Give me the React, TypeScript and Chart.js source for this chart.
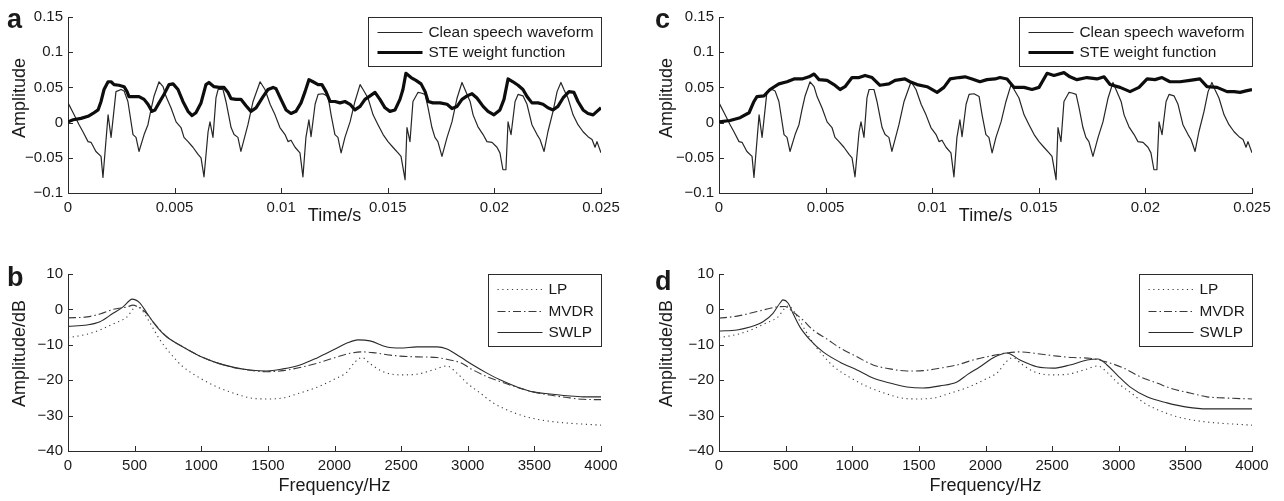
import React, { useEffect, useRef } from "react";
import { Chart, registerables } from "chart.js";

Chart.register(...registerables);

const FONT = "'Liberation Sans', Arial, Helvetica, sans-serif";
const TEXT = "#1a1a1a";
const AXIS = "#2b2b2b";

// ---------- tick values & labels ----------
const timeTicks = [0, 0.005, 0.01, 0.015, 0.02, 0.025];
const timeTickLabels = ["0", "0.005", "0.01", "0.015", "0.02", "0.025"];
const ampTicks = [-0.1, -0.05, 0, 0.05, 0.1, 0.15];
const ampTickLabels = ["\u22120.1", "\u22120.05", "0", "0.05", "0.1", "0.15"];
const freqTicks = [0, 500, 1000, 1500, 2000, 2500, 3000, 3500, 4000];
const freqTickLabels = ["0", "500", "1000", "1500", "2000", "2500", "3000", "3500", "4000"];
const dbTicks = [-40, -30, -20, -10, 0, 10];
const dbTickLabels = ["\u221240", "\u221230", "\u221220", "\u221210", "0", "10"];

// ---------- clean speech waveform (same in a and c) ----------
const speechTimeMs = [0, 0.24, 0.52, 0.70, 0.94, 1.08, 1.31, 1.55, 1.64, 1.88, 2.02, 2.25, 2.49, 2.63, 2.81, 3.05, 3.19, 3.33, 3.57, 3.75, 3.89, 4.03, 4.27, 4.46, 4.60, 4.83, 5.07, 5.30, 5.44, 5.63, 5.86, 6.10, 6.24, 6.38, 6.57, 6.66, 6.80, 6.94, 7.04, 7.27, 7.41, 7.65, 7.79, 7.97, 8.11, 8.44, 8.68, 9.01, 9.24, 9.48, 9.71, 9.94, 10.18, 10.32, 10.46, 10.65, 10.88, 11.02, 11.16, 11.30, 11.40, 11.59, 11.73, 11.96, 12.20, 12.34, 12.52, 12.66, 12.81, 12.99, 13.23, 13.46, 13.70, 13.84, 14.07, 14.31, 14.54, 14.78, 15.01, 15.24, 15.48, 15.62, 15.81, 15.90, 16.04, 16.18, 16.42, 16.56, 16.75, 16.89, 17.07, 17.21, 17.35, 17.54, 17.78, 18.01, 18.25, 18.48, 18.62, 18.86, 19.00, 19.23, 19.47, 19.65, 19.89, 20.12, 20.26, 20.40, 20.54, 20.64, 20.78, 20.97, 21.11, 21.34, 21.53, 21.76, 22.00, 22.14, 22.33, 22.51, 22.75, 22.94, 23.12, 23.26, 23.45, 23.69, 23.92, 24.16, 24.39, 24.58, 24.72, 24.81, 25.00];
const speechAmp = [0.028, 0.014, -0.003, -0.013, -0.027, -0.028, -0.041, -0.048, -0.078, 0.011, -0.021, 0.044, 0.047, 0.045, 0.030, -0.017, -0.021, -0.041, -0.017, -0.003, 0.018, 0.037, 0.058, 0.051, 0.037, 0.021, 0.001, -0.007, -0.021, -0.027, -0.035, -0.045, -0.050, -0.077, -0.013, 0.001, -0.021, 0.035, 0.047, 0.047, 0.030, -0.007, -0.017, -0.021, -0.041, -0.003, 0.030, 0.058, 0.047, 0.026, 0.011, -0.007, -0.017, -0.027, -0.025, -0.035, -0.043, -0.077, -0.021, 0.004, -0.020, 0.026, 0.040, 0.041, 0.037, 0.011, -0.017, -0.021, -0.043, -0.021, 0.001, 0.030, 0.054, 0.047, 0.035, 0.011, -0.003, -0.017, -0.027, -0.035, -0.043, -0.048, -0.081, -0.007, -0.027, 0.030, 0.043, 0.042, 0.040, 0.021, -0.007, -0.021, -0.027, -0.048, -0.021, 0.001, 0.035, 0.057, 0.047, 0.030, 0.011, -0.006, -0.017, -0.027, -0.028, -0.035, -0.043, -0.067, -0.067, 0.001, -0.017, 0.030, 0.040, 0.038, 0.026, -0.003, -0.017, -0.024, -0.041, -0.013, 0.016, 0.044, 0.057, 0.047, 0.035, 0.011, -0.003, -0.013, -0.020, -0.024, -0.035, -0.027, -0.043];

// ---------- STE weight function, panel a ----------
const steATimeMs = [0, 0.24, 0.61, 0.94, 1.17, 1.41, 1.55, 1.69, 1.88, 2.02, 2.16, 2.39, 2.63, 2.77, 2.86, 3.10, 3.33, 3.57, 3.75, 3.94, 4.08, 4.27, 4.50, 4.74, 4.93, 5.16, 5.39, 5.63, 5.82, 6.00, 6.24, 6.47, 6.61, 6.85, 7.08, 7.32, 7.50, 7.65, 7.88, 8.11, 8.35, 8.58, 8.82, 9.15, 9.38, 9.62, 9.76, 9.99, 10.23, 10.46, 10.69, 10.93, 11.12, 11.30, 11.49, 11.73, 11.91, 12.10, 12.29, 12.52, 12.76, 12.99, 13.23, 13.46, 13.70, 13.93, 14.17, 14.40, 14.63, 14.87, 15.10, 15.34, 15.57, 15.71, 15.85, 16.09, 16.32, 16.56, 16.75, 16.89, 17.12, 17.45, 17.78, 18.01, 18.25, 18.48, 18.72, 18.95, 19.18, 19.47, 19.70, 19.98, 20.26, 20.45, 20.64, 20.87, 21.11, 21.34, 21.53, 21.76, 22.05, 22.28, 22.51, 22.75, 22.98, 23.22, 23.50, 23.73, 23.92, 24.16, 24.39, 24.63, 24.81, 25.00];
const steA = [0.001, 0.004, 0.006, 0.009, 0.013, 0.018, 0.030, 0.047, 0.058, 0.058, 0.054, 0.053, 0.051, 0.044, 0.037, 0.037, 0.037, 0.033, 0.026, 0.016, 0.018, 0.028, 0.040, 0.054, 0.055, 0.047, 0.030, 0.016, 0.010, 0.014, 0.028, 0.054, 0.057, 0.051, 0.050, 0.050, 0.043, 0.034, 0.033, 0.033, 0.024, 0.016, 0.021, 0.037, 0.047, 0.050, 0.048, 0.033, 0.018, 0.013, 0.016, 0.028, 0.044, 0.061, 0.058, 0.054, 0.054, 0.044, 0.030, 0.030, 0.028, 0.030, 0.026, 0.018, 0.023, 0.033, 0.038, 0.043, 0.033, 0.021, 0.016, 0.018, 0.033, 0.047, 0.070, 0.064, 0.060, 0.055, 0.044, 0.030, 0.028, 0.028, 0.026, 0.020, 0.023, 0.033, 0.038, 0.041, 0.035, 0.023, 0.016, 0.011, 0.018, 0.033, 0.062, 0.058, 0.053, 0.047, 0.037, 0.028, 0.028, 0.026, 0.021, 0.018, 0.023, 0.035, 0.044, 0.043, 0.030, 0.018, 0.013, 0.011, 0.016, 0.021];

// ---------- STE weight function, panel c ----------
const steCTimeMs = [0, 0.52, 0.99, 1.41, 1.64, 1.78, 2.11, 2.39, 2.81, 3.19, 3.52, 3.89, 4.22, 4.46, 4.69, 5.07, 5.39, 5.68, 5.91, 6.24, 6.57, 6.85, 7.18, 7.55, 7.97, 8.26, 8.72, 8.96, 9.29, 9.76, 10.23, 10.55, 10.84, 11.26, 11.54, 11.87, 12.24, 12.57, 12.95, 13.18, 13.51, 13.84, 14.31, 14.68, 15.01, 15.39, 15.71, 16.18, 16.46, 16.79, 17.26, 17.73, 18.06, 18.34, 18.81, 19.28, 19.70, 20.08, 20.45, 20.78, 21.15, 21.62, 22.09, 22.56, 22.89, 23.36, 23.83, 24.16, 24.44, 24.72, 25.00];
const steC = [0.001, 0.003, 0.007, 0.014, 0.030, 0.037, 0.038, 0.047, 0.055, 0.058, 0.062, 0.062, 0.065, 0.069, 0.061, 0.060, 0.054, 0.047, 0.051, 0.064, 0.064, 0.067, 0.064, 0.053, 0.055, 0.060, 0.062, 0.058, 0.054, 0.051, 0.043, 0.050, 0.062, 0.064, 0.065, 0.062, 0.058, 0.061, 0.062, 0.064, 0.062, 0.050, 0.050, 0.047, 0.050, 0.070, 0.067, 0.071, 0.065, 0.061, 0.064, 0.062, 0.065, 0.054, 0.050, 0.044, 0.050, 0.062, 0.061, 0.064, 0.058, 0.058, 0.060, 0.062, 0.051, 0.050, 0.044, 0.044, 0.043, 0.045, 0.047];

// ---------- spectral envelopes ----------
const lpFreqHz = [0, 143, 240, 338, 443, 500, 525, 563, 615, 690, 765, 863, 991, 1118, 1238, 1366, 1493, 1614, 1741, 1869, 1989, 2094, 2150, 2206, 2266, 2364, 2492, 2619, 2739, 2844, 2919, 2994, 3092, 3190, 3295, 3445, 3595, 3745, 3865, 4000];
const lpDb = [-8.0, -7.0, -5.8, -4.1, -2.1, 0.6, 1.0, -0.6, -3.8, -8.6, -12.3, -16.2, -19.4, -21.9, -23.6, -25.0, -25.3, -25.0, -23.6, -22.0, -19.9, -17.7, -15.0, -13.6, -15.3, -17.6, -18.5, -18.3, -17.1, -16.0, -18.0, -20.8, -23.6, -26.4, -28.4, -30.4, -31.5, -32.1, -32.4, -32.7];

const mvdrBFreqHz = [0, 143, 240, 338, 443, 488, 525, 578, 638, 690, 743, 863, 991, 1118, 1238, 1366, 1493, 1614, 1741, 1869, 1989, 2116, 2206, 2289, 2394, 2492, 2619, 2769, 2867, 2942, 3039, 3144, 3242, 3370, 3490, 3617, 3745, 3865, 4000];
const mvdrBDb = [-2.4, -2.1, -1.3, 0, 0.7, 1.2, 0.7, -0.7, -3.5, -5.8, -7.8, -10.6, -13.2, -15.1, -16.4, -17.2, -17.6, -17.3, -16.4, -15.2, -13.8, -12.4, -12.0, -12.2, -12.8, -13.2, -13.4, -13.6, -14.3, -15.0, -17.1, -19.0, -20.4, -22.0, -23.3, -24.2, -24.9, -25.4, -25.5];

const swlpBFreqHz = [0, 143, 240, 338, 413, 465, 480, 540, 593, 668, 743, 863, 991, 1118, 1238, 1366, 1493, 1614, 1741, 1869, 1989, 2094, 2176, 2266, 2394, 2492, 2619, 2769, 2844, 2942, 3039, 3144, 3242, 3370, 3490, 3617, 3745, 3865, 4000];
const swlpBDb = [-4.8, -4.4, -3.5, -1.1, 0.7, 2.6, 2.9, 1.8, -1.1, -5.0, -7.8, -10.6, -13.2, -15.1, -16.3, -17.1, -17.4, -16.8, -15.7, -13.7, -11.5, -9.5, -8.6, -8.9, -10.6, -10.9, -10.6, -10.6, -11.2, -13.4, -15.7, -18.0, -19.9, -21.9, -23.3, -23.9, -24.4, -24.7, -24.7];

const mvdrDFreqHz = [0, 135, 233, 330, 435, 495, 555, 630, 705, 811, 908, 1036, 1156, 1283, 1411, 1531, 1659, 1786, 1906, 2034, 2161, 2259, 2409, 2537, 2657, 2784, 2912, 3032, 3159, 3287, 3407, 3535, 3662, 3782, 4000];
const mvdrDDb = [-2.5, -1.9, -1.1, -0.2, 0.7, 0.8, -0.7, -3.0, -5.8, -8.4, -10.9, -13.4, -15.7, -16.8, -17.4, -17.3, -16.6, -15.7, -14.3, -13.2, -12.3, -12.0, -12.6, -13.2, -13.6, -13.8, -14.9, -16.5, -19.0, -20.8, -22.5, -23.6, -24.7, -25.0, -25.3];

const swlpDFreqHz = [0, 135, 233, 330, 405, 458, 480, 518, 555, 608, 683, 781, 908, 1036, 1156, 1283, 1411, 1531, 1659, 1786, 1861, 1959, 2056, 2160, 2259, 2386, 2507, 2634, 2762, 2844, 2912, 2987, 3084, 3212, 3362, 3512, 3662, 3835, 4000];
const swlpDDb = [-6.1, -5.8, -5.0, -3.5, -1.1, 1.8, 2.7, 1.8, -1.1, -5.0, -8.6, -12.0, -14.9, -17.1, -19.4, -20.8, -21.9, -22.2, -21.6, -20.5, -18.5, -16.2, -13.7, -12.3, -14.3, -16.2, -16.6, -15.7, -14.3, -14.0, -15.7, -18.5, -21.9, -24.7, -26.4, -27.6, -28.1, -28.1, -28.1];

// ---------- helpers ----------
const zip = (xs: number[], ys: number[], k = 1) => {
  const n = Math.min(xs.length, ys.length);
  const out: { x: number; y: number }[] = [];
  for (let i = 0; i < n; i++) out.push({ x: xs[i] * k, y: ys[i] });
  return out;
};

type Series = { label: string; data: { x: number; y: number }[]; width: number; color: string; dash: number[]; smooth: boolean; order: number };

const speechSeries = (): Series => ({ label: "Clean speech waveform", data: zip(speechTimeMs, speechAmp, 0.001), width: 1.2, color: "#262626", dash: [], smooth: false, order: 1 });
const steSeries = (t: number[], v: number[]): Series => ({ label: "STE weight function", data: zip(t, v, 0.001), width: 3.2, color: "#0d0d0d", dash: [], smooth: false, order: 0 });
const lpSeries = (): Series => ({ label: "LP", data: zip(lpFreqHz, lpDb), width: 1.1, color: "#3a3a3a", dash: [1.2, 3.6], smooth: true, order: 0 });
const mvdrSeries = (f: number[], d: number[]): Series => ({ label: "MVDR", data: zip(f, d), width: 1.1, color: "#3a3a3a", dash: [8, 3, 1.5, 3], smooth: true, order: 0 });
const swlpSeries = (f: number[], d: number[]): Series => ({ label: "SWLP", data: zip(f, d), width: 1.1, color: "#2a2a2a", dash: [], smooth: true, order: 0 });

type PanelCfg = {
  left: number; top: number; width: number; height: number;
  areaTop: number; areaBottom: number; areaRight: number; yAxisWidth: number;
  xMin: number; xMax: number; xTicks: number[]; xLabels: string[]; xTitle: string; xTitlePad: number;
  yMin: number; yMax: number; yTicks: number[]; yLabels: string[]; yTitle: string; yTitleX: number; yTitleShift: number;
  letter: string; letterX: number; letterY: number;
  legendW: number; legendH: number; legendRows: number[];
  series: Series[];
};

const panels: PanelCfg[] = [
  {
    left: 0, top: 0, width: 642, height: 232, areaTop: 17, areaBottom: 193, areaRight: 601, yAxisWidth: 68,
    xMin: 0, xMax: 0.025, xTicks: timeTicks, xLabels: timeTickLabels, xTitle: "Time/s", xTitlePad: 5,
    yMin: -0.1, yMax: 0.15, yTicks: ampTicks, yLabels: ampTickLabels, yTitle: "Amplitude", yTitleX: 20, yTitleShift: 7,
    letter: "a", letterX: 7, letterY: 28,
    legendW: 233, legendH: 49, legendRows: [15, 35],
    series: [speechSeries(), steSeries(steATimeMs, steA)],
  },
  {
    left: 0, top: 240, width: 642, height: 261, areaTop: 34, areaBottom: 211, areaRight: 601, yAxisWidth: 68,
    xMin: 0, xMax: 4000, xTicks: freqTicks, xLabels: freqTickLabels, xTitle: "Frequency/Hz", xTitlePad: 4,
    yMin: -40, yMax: 10, yTicks: dbTicks, yLabels: dbTickLabels, yTitle: "Amplitude/dB", yTitleX: 20, yTitleShift: 9,
    letter: "b", letterX: 7, letterY: 46,
    legendW: 113, legendH: 72, legendRows: [15, 37, 58],
    series: [lpSeries(), mvdrSeries(mvdrBFreqHz, mvdrBDb), swlpSeries(swlpBFreqHz, swlpBDb)],
  },
  {
    left: 651, top: 0, width: 633, height: 232, areaTop: 17, areaBottom: 193, areaRight: 601, yAxisWidth: 68,
    xMin: 0, xMax: 0.025, xTicks: timeTicks, xLabels: timeTickLabels, xTitle: "Time/s", xTitlePad: 5,
    yMin: -0.1, yMax: 0.15, yTicks: ampTicks, yLabels: ampTickLabels, yTitle: "Amplitude", yTitleX: 16, yTitleShift: 7,
    letter: "c", letterX: 4, letterY: 28,
    legendW: 233, legendH: 49, legendRows: [15, 35],
    series: [speechSeries(), steSeries(steCTimeMs, steC)],
  },
  {
    left: 651, top: 240, width: 633, height: 261, areaTop: 34, areaBottom: 211, areaRight: 601, yAxisWidth: 68,
    xMin: 0, xMax: 4000, xTicks: freqTicks, xLabels: freqTickLabels, xTitle: "Frequency/Hz", xTitlePad: 4,
    yMin: -40, yMax: 10, yTicks: dbTicks, yLabels: dbTickLabels, yTitle: "Amplitude/dB", yTitleX: 16, yTitleShift: 9,
    letter: "d", letterX: 4, letterY: 50,
    legendW: 113, legendH: 72, legendRows: [15, 37, 58],
    series: [lpSeries(), mvdrSeries(mvdrDFreqHz, mvdrDDb), swlpSeries(swlpDFreqHz, swlpDDb)],
  },
];

const makeDecor = (p: PanelCfg) => ({
  id: "decor",
  afterDraw(chart: any) {
    const ctx: CanvasRenderingContext2D = chart.ctx;
    const ca = chart.chartArea;
    const xs = chart.scales.x;
    const ys = chart.scales.y;
    ctx.save();
    // inward tick marks
    ctx.strokeStyle = AXIS;
    ctx.lineWidth = 1;
    ctx.setLineDash([]);
    ctx.beginPath();
    for (const t of xs.ticks) {
      const px = Math.round(xs.getPixelForValue(t.value)) + 0.5;
      ctx.moveTo(px, ca.bottom);
      ctx.lineTo(px, ca.bottom - 5);
    }
    for (const t of ys.ticks) {
      const py = Math.round(ys.getPixelForValue(t.value)) + 0.5;
      ctx.moveTo(ca.left, py);
      ctx.lineTo(ca.left + 5, py);
    }
    ctx.stroke();

    // panel letter
    ctx.fillStyle = TEXT;
    ctx.font = `bold 27px ${FONT}`;
    ctx.textAlign = "left";
    ctx.textBaseline = "alphabetic";
    ctx.fillText(p.letter, p.letterX, p.letterY);

    // y-axis title
    ctx.save();
    ctx.font = `18px ${FONT}`;
    ctx.translate(p.yTitleX, (ca.top + ca.bottom) / 2 - p.yTitleShift);
    ctx.rotate(-Math.PI / 2);
    ctx.textAlign = "center";
    ctx.textBaseline = "middle";
    ctx.fillText(p.yTitle, 0, 0);
    ctx.restore();

    // legend box
    const bx = Math.round(ca.right - p.legendW) + 0.5;
    const by = Math.round(ca.top) + 0.5;
    ctx.fillStyle = "#ffffff";
    ctx.fillRect(bx, by, p.legendW, p.legendH);
    ctx.strokeStyle = AXIS;
    ctx.lineWidth = 1;
    ctx.strokeRect(bx, by, p.legendW, p.legendH);
    chart.data.datasets.forEach((ds: any, i: number) => {
      const y = by + p.legendRows[i];
      ctx.save();
      ctx.strokeStyle = ds.borderColor;
      ctx.lineWidth = ds.borderWidth;
      ctx.setLineDash(ds.borderDash || []);
      ctx.beginPath();
      ctx.moveTo(bx + 9, y);
      ctx.lineTo(bx + 54, y);
      ctx.stroke();
      ctx.restore();
      ctx.fillStyle = TEXT;
      ctx.font = `15.4px ${FONT}`;
      ctx.textAlign = "left";
      ctx.textBaseline = "middle";
      ctx.fillText(ds.label, bx + 60, y + 0.5);
    });
    ctx.restore();
  },
});

function Panel({ p }: { p: PanelCfg }) {
  const ref = useRef<HTMLCanvasElement | null>(null);
  useEffect(() => {
    if (!ref.current) return;
    const tickFont = { family: FONT, size: 15 };
    const chart = new Chart(ref.current, {
      type: "line",
      data: {
        datasets: p.series.map((s) => ({
          label: s.label,
          data: s.data,
          borderColor: s.color,
          borderWidth: s.width,
          borderDash: s.dash,
          pointRadius: 0,
          fill: false,
          tension: 0,
          cubicInterpolationMode: s.smooth ? "monotone" : "default",
          order: s.order,
          borderCapStyle: "butt",
          borderJoinStyle: "round",
        })),
      } as any,
      options: {
        responsive: false,
        animation: false,
        events: [],
        layout: { padding: { left: 0, top: p.areaTop, right: p.width - p.areaRight, bottom: 0 } },
        plugins: { legend: { display: false }, tooltip: { enabled: false }, title: { display: false } },
        scales: {
          x: {
            type: "linear",
            min: p.xMin,
            max: p.xMax,
            grid: { display: false, drawTicks: false },
            border: { display: true, color: AXIS, width: 1 },
            ticks: {
              font: tickFont,
              color: TEXT,
              padding: 6,
              maxRotation: 0,
              autoSkip: false,
              callback: (_v: any, i: number) => p.xLabels[i],
            },
            title: { display: true, text: p.xTitle, color: TEXT, font: { family: FONT, size: 18 }, padding: { top: 0, bottom: p.xTitlePad } },
            afterBuildTicks: (scale: any) => {
              scale.ticks = p.xTicks.map((v) => ({ value: v }));
            },
            afterFit: (scale: any) => {
              scale.height = p.height - p.areaBottom;
            },
          },
          y: {
            type: "linear",
            min: p.yMin,
            max: p.yMax,
            grid: { display: false, drawTicks: false },
            border: { display: true, color: AXIS, width: 1 },
            ticks: {
              font: tickFont,
              color: TEXT,
              padding: 5,
              autoSkip: false,
              callback: (_v: any, i: number) => p.yLabels[i],
            },
            afterBuildTicks: (scale: any) => {
              scale.ticks = p.yTicks.map((v) => ({ value: v }));
            },
            afterFit: (scale: any) => {
              scale.width = p.yAxisWidth;
            },
          },
        },
      } as any,
      plugins: [makeDecor(p)],
    });
    return () => chart.destroy();
  }, [p]);
  return (
    <canvas
      ref={ref}
      width={p.width}
      height={p.height}
      style={{ position: "absolute", left: p.left, top: p.top, width: p.width, height: p.height }}
    />
  );
}

export default function App() {
  return (
    <div style={{ position: "absolute", left: 0, top: 0, width: 1284, height: 501, background: "#ffffff", overflow: "hidden" }}>
      {panels.map((p, i) => (
        <Panel key={i} p={p} />
      ))}
    </div>
  );
}
